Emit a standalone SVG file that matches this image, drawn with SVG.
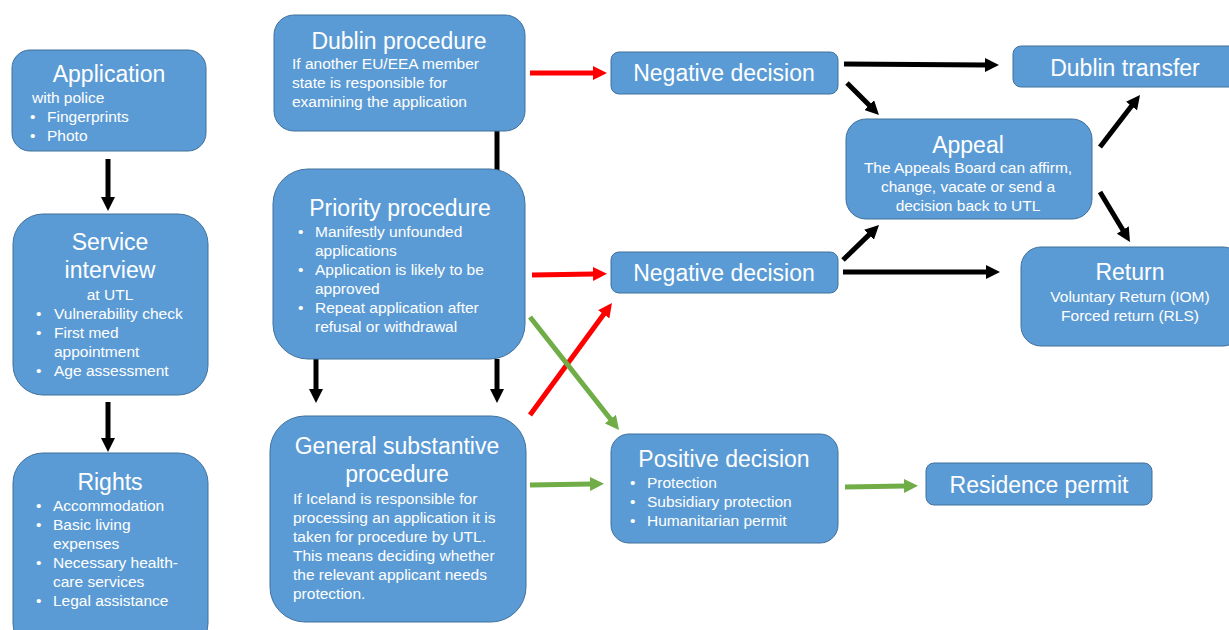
<svg xmlns="http://www.w3.org/2000/svg" width="1229" height="630" viewBox="0 0 1229 630">
<style>
.box{fill:#5B9BD5;stroke:#41719C;stroke-width:1}
text{font-family:"Liberation Sans",Arial,sans-serif;fill:#fff}
.t{font-size:23px}
.b{font-size:15.5px}
.m{text-anchor:middle}
.k{stroke:#000;stroke-width:5;fill:none}
.r{stroke:#FF0000;stroke-width:5;fill:none}
.g{stroke:#70AD47;stroke-width:5;fill:none}
</style>
<defs>
<marker id="hk" viewBox="0 0 14 14" refX="1" refY="7" markerWidth="14" markerHeight="14" markerUnits="userSpaceOnUse" orient="auto"><path d="M0,0 L14,7 L0,14 z" fill="#000"/></marker>
<marker id="hr" viewBox="0 0 14 14" refX="1" refY="7" markerWidth="14" markerHeight="14" markerUnits="userSpaceOnUse" orient="auto"><path d="M0,0 L14,7 L0,14 z" fill="#FF0000"/></marker>
<marker id="hg" viewBox="0 0 14 14" refX="1" refY="7" markerWidth="14" markerHeight="14" markerUnits="userSpaceOnUse" orient="auto"><path d="M0,0 L14,7 L0,14 z" fill="#70AD47"/></marker>
</defs>
<rect width="1229" height="630" fill="#fff"/>

<g id="connectors">
<line class="k" x1="108" y1="159" x2="108" y2="198" marker-end="url(#hk)"/>
<line class="k" x1="108" y1="402" x2="108" y2="439" marker-end="url(#hk)"/>
<line class="k" x1="497" y1="131" x2="497" y2="170"/>
<line class="k" x1="316" y1="359" x2="316" y2="390" marker-end="url(#hk)"/>
<line class="k" x1="497" y1="359" x2="497" y2="390" marker-end="url(#hk)"/>
<line class="r" x1="530" y1="73" x2="594" y2="73" marker-end="url(#hr)"/>
<line class="r" x1="532" y1="275" x2="594" y2="274" marker-end="url(#hr)"/>
<line class="r" x1="530" y1="415" x2="604.3" y2="313.5" marker-end="url(#hr)"/>
<line class="g" x1="530" y1="317" x2="611" y2="419.8" marker-end="url(#hg)"/>
<line class="g" x1="530" y1="485" x2="591" y2="484" marker-end="url(#hg)"/>
<line class="g" x1="845" y1="487" x2="905" y2="486" marker-end="url(#hg)"/>
<line class="k" x1="844" y1="64" x2="986" y2="65" marker-end="url(#hk)"/>
<line class="k" x1="847" y1="83" x2="869.8" y2="105.8" marker-end="url(#hk)"/>
<line class="k" x1="843" y1="260" x2="869.7" y2="234.1" marker-end="url(#hk)"/>
<line class="k" x1="843" y1="272" x2="987" y2="272" marker-end="url(#hk)"/>
<line class="k" x1="1100" y1="147" x2="1132.1" y2="105.3" marker-end="url(#hk)"/>
<line class="k" x1="1100" y1="192" x2="1123.3" y2="230.8" marker-end="url(#hk)"/>
</g>

<g id="application">
<rect class="box" x="12" y="50" width="194" height="101" rx="18"/>
<text class="t m" x="109" y="82">Application</text>
<text class="b" x="32" y="103">with police</text>
<text class="b" x="30" y="122">•</text><text class="b" x="47" y="122">Fingerprints</text>
<text class="b" x="30" y="141">•</text><text class="b" x="47" y="141">Photo</text>
</g>

<g id="service-interview">
<rect class="box" x="13" y="214" width="195" height="181" rx="30"/>
<text class="t m" x="110" y="250">Service</text>
<text class="t m" x="110" y="278">interview</text>
<text class="b m" x="110" y="300">at UTL</text>
<text class="b" x="36" y="319">•</text><text class="b" x="54" y="319">Vulnerability check</text>
<text class="b" x="36" y="338">•</text><text class="b" x="54" y="338">First med</text>
<text class="b" x="54" y="357">appointment</text>
<text class="b" x="36" y="376">•</text><text class="b" x="54" y="376">Age assessment</text>
</g>

<g id="rights">
<rect class="box" x="13" y="453" width="195" height="200" rx="30"/>
<text class="t m" x="110" y="490">Rights</text>
<text class="b" x="36" y="511">•</text><text class="b" x="53" y="511">Accommodation</text>
<text class="b" x="36" y="530">•</text><text class="b" x="53" y="530">Basic living</text>
<text class="b" x="53" y="549">expenses</text>
<text class="b" x="36" y="568">•</text><text class="b" x="53" y="568">Necessary health-</text>
<text class="b" x="53" y="587">care services</text>
<text class="b" x="36" y="606">•</text><text class="b" x="53" y="606">Legal assistance</text>
</g>

<g id="dublin-procedure">
<rect class="box" x="274" y="15" width="251" height="116" rx="20"/>
<text class="t m" x="399" y="49">Dublin procedure</text>
<text class="b" x="292" y="69">If another EU/EEA member</text>
<text class="b" x="292" y="88">state is responsible for</text>
<text class="b" x="292" y="107">examining the application</text>
</g>

<g id="priority-procedure">
<rect class="box" x="273" y="169" width="252" height="190" rx="35"/>
<text class="t m" x="400" y="216">Priority procedure</text>
<text class="b" x="298" y="237">•</text><text class="b" x="315" y="237">Manifestly unfounded</text>
<text class="b" x="315" y="256">applications</text>
<text class="b" x="298" y="275">•</text><text class="b" x="315" y="275">Application is likely to be</text>
<text class="b" x="315" y="294">approved</text>
<text class="b" x="298" y="313">•</text><text class="b" x="315" y="313">Repeat application after</text>
<text class="b" x="315" y="332">refusal or withdrawal</text>
</g>

<g id="general-procedure">
<rect class="box" x="270" y="416" width="256" height="206" rx="35"/>
<text class="t m" x="397" y="454">General substantive</text>
<text class="t m" x="397" y="482">procedure</text>
<text class="b" x="293" y="504">If Iceland is responsible for</text>
<text class="b" x="293" y="523">processing an application it is</text>
<text class="b" x="293" y="542">taken for procedure by UTL.</text>
<text class="b" x="293" y="561">This means deciding whether</text>
<text class="b" x="293" y="580">the relevant applicant needs</text>
<text class="b" x="293" y="599">protection.</text>
</g>

<g id="negative-decision-1">
<rect class="box" x="611" y="52" width="227" height="42" rx="8"/>
<text class="t m" x="724" y="81">Negative decision</text>
</g>

<g id="negative-decision-2">
<rect class="box" x="611" y="252" width="227" height="41" rx="8"/>
<text class="t m" x="724" y="281">Negative decision</text>
</g>

<g id="positive-decision">
<rect class="box" x="611" y="434" width="227" height="109" rx="18"/>
<text class="t m" x="724" y="467">Positive decision</text>
<text class="b" x="630" y="488">•</text><text class="b" x="647" y="488">Protection</text>
<text class="b" x="630" y="507">•</text><text class="b" x="647" y="507">Subsidiary protection</text>
<text class="b" x="630" y="526">•</text><text class="b" x="647" y="526">Humanitarian permit</text>
</g>

<g id="residence-permit">
<rect class="box" x="926" y="463" width="226" height="42" rx="8"/>
<text class="t m" x="1039" y="493">Residence permit</text>
</g>

<g id="dublin-transfer">
<rect class="box" x="1013" y="46" width="230" height="41" rx="8"/>
<text class="t m" x="1125" y="76">Dublin transfer</text>
</g>

<g id="appeal">
<rect class="box" x="846" y="119" width="246" height="100" rx="20"/>
<text class="t m" x="968" y="153">Appeal</text>
<text class="b m" x="968" y="173">The Appeals Board can affirm,</text>
<text class="b m" x="968" y="192">change, vacate or send a</text>
<text class="b m" x="968" y="211">decision back to UTL</text>
</g>

<g id="return">
<rect class="box" x="1021" y="247" width="222" height="99" rx="20"/>
<text class="t m" x="1130" y="280">Return</text>
<text class="b m" x="1130" y="302">Voluntary Return (IOM)</text>
<text class="b m" x="1130" y="321">Forced return (RLS)</text>
</g>
</svg>
